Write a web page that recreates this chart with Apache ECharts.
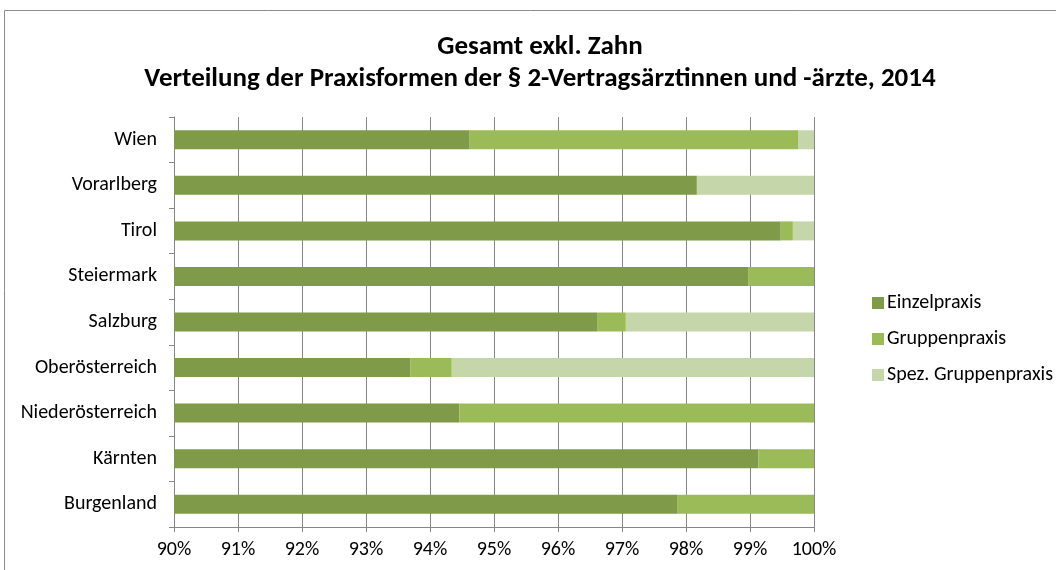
<!DOCTYPE html>
<html><head><meta charset="utf-8">
<script src="https://cdn.jsdelivr.net/npm/echarts@6/dist/echarts.min.js"></script>
<style>html,body{margin:0;padding:0;background:#fff}#c{width:1056px;height:570px}</style>
</head><body><div id="c"></div>
<script>
const categories = ['Wien','Vorarlberg','Tirol','Steiermark','Salzburg','Oberösterreich','Niederösterreich','Kärnten','Burgenland'];
const einzelpraxis = [94.62, 98.17, 99.48, 98.97, 96.61, 93.69, 94.46, 99.13, 97.86];
const gruppenpraxis = [5.13, 0, 0.19, 1.03, 0.45, 0.65, 5.54, 0.87, 2.14];
const spezGruppenpraxis = [0.25, 1.83, 0.33, 0, 2.94, 5.66, 0, 0, 0];
const seriesNames = ['Einzelpraxis','Gruppenpraxis','Spez. Gruppenpraxis'];
const colors = ['#7f9a48','#9bbb59','#c5d6aa'];
const font = 'Carlito, Calibri, "Open Sans", sans-serif';

const chart = echarts.init(document.getElementById('c'));
const mk = (name, data, color) => ({
  name, type:'bar', stack:'total', data, barWidth: 19,
  itemStyle:{color}, emphasis:{disabled:true}
});
chart.setOption({
  animation:false,
  textStyle:{fontFamily:font},
  title:{
    text:'Gesamt exkl. Zahn\nVerteilung der Praxisformen der § 2-Vertragsärztinnen und -ärzte, 2014',
    left:535, top:26, textAlign:'center',
    textStyle:{fontFamily:font, fontSize:27, fontWeight:'bold', color:'#000', lineHeight:32}
  },
  graphic:[{type:'rect', shape:{x:4.5,y:10.5,width:1100,height:600}, style:{fill:'none', stroke:'#8c8c8c', lineWidth:1}, silent:true, z:-1}],
  legend:{
    orient:'vertical', left:867, top:288, itemGap:16, itemWidth:12, itemHeight:12,
    icon:'rect', data:seriesNames,
    textStyle:{fontFamily:font, fontSize:20, color:'#000', padding:[0,0,0,-2]}
  },
  grid:{left:174, right:242, top:117, bottom:43, containLabel:false},
  xAxis:{
    type:'value', min:90, max:100, interval:1,
    axisLabel:{formatter:v=>v+'%', fontSize:20, color:'#000', margin:13},
    axisLine:{show:true, lineStyle:{color:'#868686'}},
    axisTick:{show:true, length:5, lineStyle:{color:'#868686'}},
    splitLine:{show:true, lineStyle:{color:'#868686', width:1}}
  },
  yAxis:{
    type:'category', data:categories, inverse:true,
    axisLabel:{fontSize:20, color:'#000', margin:17},
    axisLine:{show:true, lineStyle:{color:'#868686'}},
    axisTick:{show:true, length:5, lineStyle:{color:'#868686'}}
  },
  series:[
    mk(seriesNames[0], einzelpraxis, colors[0]),
    mk(seriesNames[1], gruppenpraxis, colors[1]),
    mk(seriesNames[2], spezGruppenpraxis, colors[2])
  ]
});
</script></body></html>
